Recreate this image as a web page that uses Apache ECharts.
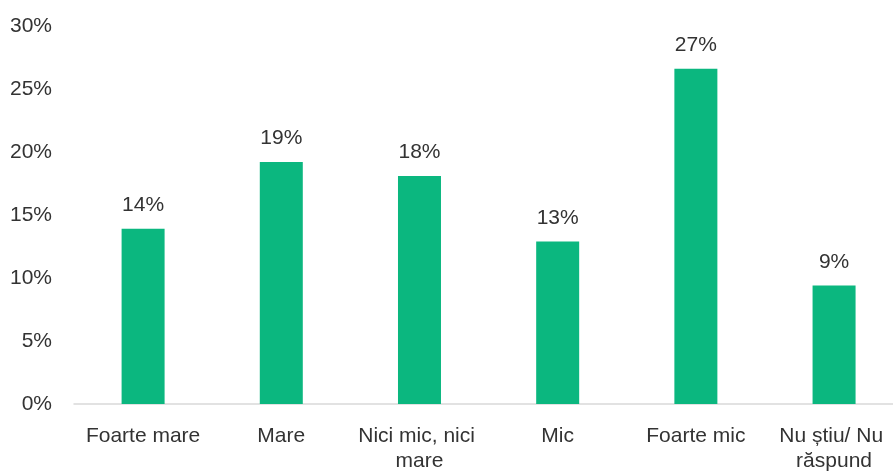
<!DOCTYPE html>
<html>
<head>
<meta charset="utf-8">
<script src="https://cdn.jsdelivr.net/npm/echarts@6/dist/echarts.min.js"></script>
<style>html,body{margin:0;padding:0;background:#fff;overflow:hidden}#c{width:904px;height:474px}</style>
</head>
<body>
<div id="c"></div>
<script>
const categories = ["Foarte mare", "Mare", "Nici mic, nici mare", "Mic", "Foarte mic", "Nu știu/ Nu răspund"];
const values = [13.9, 19.2, 18.1, 12.9, 26.6, 9.4];
const yTicks = [0, 5, 10, 15, 20, 25, 30];

const chart = echarts.init(document.getElementById('c'), null, {renderer: 'canvas'});
const font = 'Liberation Sans, Arial, sans-serif';
chart.setOption({
  animation: false,
  grid: {left: 74, right: 0, top: 26, bottom: 70, containLabel: false},
  xAxis: {
    type: 'category',
    data: categories,
    axisLine: {lineStyle: {color: '#d9d9d9', width: 1.5}},
    axisTick: {show: false},
    axisLabel: {
      color: '#333333', fontFamily: font, fontSize: 21, margin: 20,
      width: 134, overflow: 'break', lineHeight: 25, interval: 0
    }
  },
  yAxis: {
    type: 'value',
    min: yTicks[0], max: yTicks[yTicks.length - 1], interval: 5,
    splitLine: {show: false},
    axisLine: {show: false},
    axisTick: {show: false},
    axisLabel: {color: '#333333', fontFamily: font, fontSize: 21, margin: 22, formatter: v => v + '%'}
  },
  series: [{
    type: 'bar',
    data: values,
    barWidth: 43,
    itemStyle: {color: '#0bb77f'},
    label: {
      show: true, position: 'top', distance: 13,
      color: '#333333', fontFamily: font, fontSize: 21,
      formatter: p => Math.round(p.value) + '%'
    }
  }]
});
</script>
</body>
</html>
